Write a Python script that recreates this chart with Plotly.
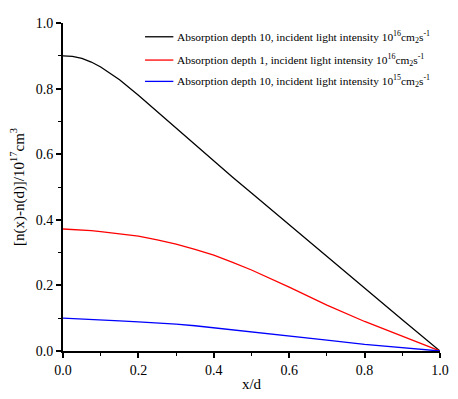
import plotly.graph_objects as go

x_vals = [0.0, 0.025, 0.05, 0.075, 0.1, 0.15, 0.2, 0.25, 0.3, 0.35, 0.4, 0.45, 0.5, 0.6, 0.7, 0.8, 0.9, 1.0]
black_vals = [0.900, 0.898, 0.892, 0.881, 0.866, 0.827, 0.780, 0.730, 0.679, 0.628, 0.578, 0.530, 0.482, 0.385, 0.287, 0.191, 0.095, 0.0]
red_vals = [0.372, 0.371, 0.369, 0.367, 0.364, 0.358, 0.350, 0.339, 0.326, 0.310, 0.292, 0.270, 0.247, 0.195, 0.140, 0.090, 0.045, 0.0]
blue_vals = [0.100, 0.099, 0.098, 0.097, 0.095, 0.092, 0.089, 0.086, 0.082, 0.077, 0.071, 0.065, 0.058, 0.046, 0.033, 0.020, 0.009, 0.0]

names = [
    "Absorption depth 10, incident light intensity 10<sup>16</sup>cm<sub>2</sub>s<sup>-1</sup>",
    "Absorption depth 1, incident light intensity 10<sup>16</sup>cm<sub>2</sub>s<sup>-1</sup>",
    "Absorption depth 10, incident light intensity 10<sup>15</sup>cm<sub>2</sub>s<sup>-1</sup>",
]
colors = ["black", "red", "blue"]
legend_rows_y = [0.958, 0.887, 0.822]

font_family = "Liberation Serif"
fig = go.Figure()
for ys, nm, c in zip([black_vals, red_vals, blue_vals], names, colors):
    fig.add_trace(go.Scatter(x=x_vals, y=ys, mode="lines", name=nm,
                             line=dict(color=c, width=1.3)))

# manual legend, sized so it stays inside the page
for nm, c, ly in zip(names, colors, legend_rows_y):
    fig.add_shape(type="line", xref="paper", yref="paper",
                  x0=0.2176, x1=0.2927, y0=ly, y1=ly, line=dict(color=c, width=1.3))
    fig.add_annotation(xref="paper", yref="paper", x=0.299, y=ly, text=nm,
                       showarrow=False, xanchor="left", yanchor="middle", borderpad=0,
                       font=dict(family=font_family, size=11.4, color="black"))

fig.update_layout(
    width=458, height=399,
    margin=dict(l=63, r=9, t=23, b=39),
    paper_bgcolor="white", plot_bgcolor="white",
    font=dict(family=font_family, size=14, color="black"),
    showlegend=False,
)
fig.update_xaxes(range=[0, 1.0], tickvals=[0, 0.2, 0.4, 0.6, 0.8, 1.0],
                 ticktext=["0.0", "0.2", "0.4", "0.6", "0.8", "1.0"],
                 ticks="outside", ticklen=5, tickwidth=1.5, tickcolor="black",
                 minor=dict(dtick=0.1, ticks="outside", ticklen=3, tickwidth=1.2, tickcolor="black"),
                 showline=True, linecolor="black", linewidth=1.8, showgrid=False, zeroline=False,
                 title=dict(text="x/d", standoff=2, font=dict(size=15)))
fig.update_yaxes(range=[0, 1.0], tickvals=[0, 0.2, 0.4, 0.6, 0.8, 1.0],
                 ticktext=["0.0", "0.2", "0.4", "0.6", "0.8", "1.0"],
                 ticks="outside", ticklen=5, tickwidth=1.5, tickcolor="black",
                 minor=dict(dtick=0.1, ticks="outside", ticklen=3, tickwidth=1.2, tickcolor="black"),
                 showline=True, linecolor="black", linewidth=1.8, showgrid=False, zeroline=False,
                 title=dict(text="[n(x)-n(d)]/10<sup>17</sup>cm<sup>3</sup>", standoff=8, font=dict(size=15)))

post = (
    "document.documentElement.style.margin='0';"
    "document.body.style.margin='0';"
)
fig.write_html("out.html", config={"displayModeBar": False}, post_script=post)
